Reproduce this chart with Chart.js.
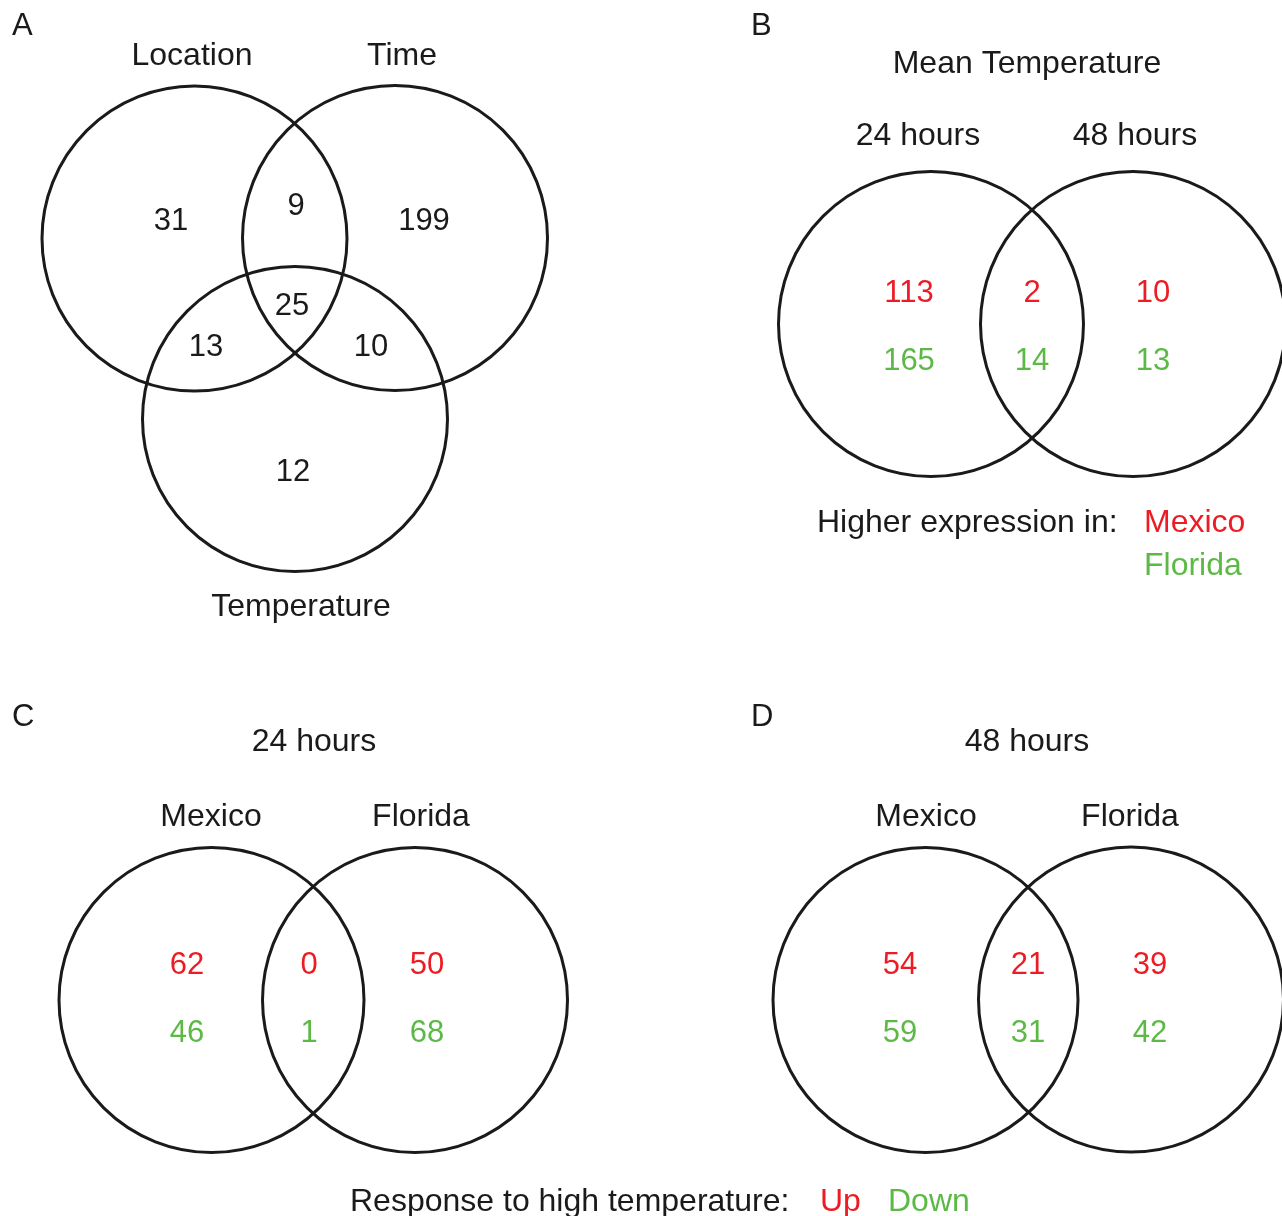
<!DOCTYPE html>
<html>
<head>
<meta charset="utf-8">
<script src="https://cdn.jsdelivr.net/npm/chart.js@4.4.1/dist/chart.umd.min.js"></script>
<style>
  html, body { margin: 0; padding: 0; background: #ffffff; }
  #wrap { width: 1282px; height: 1216px; }
</style>
</head>
<body>
<div id="wrap"><canvas id="c" width="1282" height="1216"></canvas></div>
<script>
// ---------------- DATA ----------------
const panelLetters = ['A', 'B', 'C', 'D'];

// Panel A: three-way Venn
const panelASets = ['Location', 'Time', 'Temperature'];
const panelARegions = ['Location only', 'Location & Time', 'Time only', 'All three',
                       'Location & Temperature', 'Time & Temperature', 'Temperature only'];
const panelACounts = [31, 9, 199, 25, 13, 10, 12];

// Panel B: Mean Temperature
const panelBTitle = 'Mean Temperature';
const panelBSets = ['24 hours', '48 hours'];
const panelBMexico = [113, 2, 10];   // 24h only, both, 48h only
const panelBFlorida = [165, 14, 13];
const panelBLegendLabel = 'Higher expression in:';
const panelBLegend = ['Mexico', 'Florida'];

// Panel C: 24 hours
const panelCTitle = '24 hours';
const panelCSets = ['Mexico', 'Florida'];
const panelCUp = [62, 0, 50];
const panelCDown = [46, 1, 68];

// Panel D: 48 hours
const panelDTitle = '48 hours';
const panelDSets = ['Mexico', 'Florida'];
const panelDUp = [54, 21, 39];
const panelDDown = [59, 31, 42];

const bottomLegendLabel = 'Response to high temperature:';
const bottomLegend = ['Up', 'Down'];

// ---------------- LAYOUT (positions / styles) ----------------
const RED = '#ed1c24';
const GREEN = '#5db946';
const INK = '#1a1a1a';
const FONT = '32px "Liberation Sans", Arial, Helvetica, sans-serif';
const NUM_FONT = '31px "Liberation Sans", Arial, Helvetica, sans-serif';

const circleLayout = [
  {x: 194.5, y: 238.5}, {x: 395, y: 238}, {x: 295, y: 419},      // A
  {x: 931, y: 324}, {x: 1133, y: 324},                           // B
  {x: 211.5, y: 1000}, {x: 415, y: 1000},                        // C
  {x: 925.5, y: 1000}, {x: 1131, y: 999.5}                       // D
];
const circleRadius = 152.5;

const letterPos = [{x: 12, y: 35}, {x: 751, y: 35}, {x: 12, y: 726}, {x: 751, y: 726}];
const aSetPos = [{x: 192, y: 65}, {x: 402, y: 65}, {x: 301, y: 616}];
const aRegionPos = [{x: 171, y: 230}, {x: 296, y: 215}, {x: 424, y: 230}, {x: 292, y: 315},
                    {x: 206, y: 356}, {x: 371, y: 356}, {x: 293, y: 481}];
const bTitlePos = {x: 1027, y: 73};
const bSetPos = [{x: 918, y: 145}, {x: 1135, y: 145}];
const bRegionX = [909, 1032, 1153];
const bRowY = [302, 370];
const bLegendPos = {x: 817, y: 532, x2: 1144, y2: 575};
const cTitlePos = {x: 314, y: 751};
const cSetPos = [{x: 211, y: 826}, {x: 421, y: 826}];
const cRegionX = [187, 309, 427];
const dTitlePos = {x: 1027, y: 751};
const dSetPos = [{x: 926, y: 826}, {x: 1130, y: 826}];
const dRegionX = [900, 1028, 1150];
const cdRowY = [974, 1042];
const bottomPos = {x: 350, y: 1211, up: 820, down: 888};

// ---------------- TEXT PLUGIN ----------------
const textPlugin = {
  id: 'vennText',
  afterDatasetsDraw(chart) {
    const ctx = chart.ctx;
    const sx = chart.scales.x, sy = chart.scales.y;
    const put = (t, x, y, color, align, font) => {
      ctx.font = font || FONT;
      ctx.fillStyle = color;
      ctx.textAlign = align || 'center';
      ctx.fillText(String(t), sx.getPixelForValue(x), sy.getPixelForValue(y));
    };
    ctx.save();
    ctx.textBaseline = 'alphabetic';
    panelLetters.forEach((l, i) => put(l, letterPos[i].x, letterPos[i].y, INK, 'left', NUM_FONT));
    // A
    panelASets.forEach((s, i) => put(s, aSetPos[i].x, aSetPos[i].y, INK));
    panelACounts.forEach((v, i) => put(v, aRegionPos[i].x, aRegionPos[i].y, INK, 'center', NUM_FONT));
    // B
    put(panelBTitle, bTitlePos.x, bTitlePos.y, INK);
    panelBSets.forEach((s, i) => put(s, bSetPos[i].x, bSetPos[i].y, INK));
    panelBMexico.forEach((v, i) => put(v, bRegionX[i], bRowY[0], RED, 'center', NUM_FONT));
    panelBFlorida.forEach((v, i) => put(v, bRegionX[i], bRowY[1], GREEN, 'center', NUM_FONT));
    put(panelBLegendLabel, bLegendPos.x, bLegendPos.y, INK, 'left');
    put(panelBLegend[0], bLegendPos.x2, bLegendPos.y, RED, 'left');
    put(panelBLegend[1], bLegendPos.x2, bLegendPos.y2, GREEN, 'left');
    // C
    put(panelCTitle, cTitlePos.x, cTitlePos.y, INK);
    panelCSets.forEach((s, i) => put(s, cSetPos[i].x, cSetPos[i].y, INK));
    panelCUp.forEach((v, i) => put(v, cRegionX[i], cdRowY[0], RED, 'center', NUM_FONT));
    panelCDown.forEach((v, i) => put(v, cRegionX[i], cdRowY[1], GREEN, 'center', NUM_FONT));
    // D
    put(panelDTitle, dTitlePos.x, dTitlePos.y, INK);
    panelDSets.forEach((s, i) => put(s, dSetPos[i].x, dSetPos[i].y, INK));
    panelDUp.forEach((v, i) => put(v, dRegionX[i], cdRowY[0], RED, 'center', NUM_FONT));
    panelDDown.forEach((v, i) => put(v, dRegionX[i], cdRowY[1], GREEN, 'center', NUM_FONT));
    // bottom legend
    put(bottomLegendLabel, bottomPos.x, bottomPos.y, INK, 'left');
    put(bottomLegend[0], bottomPos.up, bottomPos.y, RED, 'left');
    put(bottomLegend[1], bottomPos.down, bottomPos.y, GREEN, 'left');
    ctx.restore();
  }
};

// ---------------- CHART ----------------
new Chart(document.getElementById('c'), {
  type: 'bubble',
  data: {
    datasets: [{
      data: circleLayout.map(p => ({x: p.x, y: p.y, r: circleRadius})),
      backgroundColor: 'rgba(0,0,0,0)',
      borderColor: INK,
      borderWidth: 3,
      hoverBorderWidth: 3,
      hoverRadius: 0,
      clip: false
    }]
  },
  options: {
    responsive: false,
    animation: false,
    events: [],
    layout: {padding: 0, autoPadding: false},
    plugins: {legend: {display: false}, tooltip: {enabled: false}},
    scales: {
      x: {type: 'linear', min: 0, max: 1282, display: false},
      y: {type: 'linear', min: 0, max: 1216, reverse: true, display: false}
    }
  },
  plugins: [textPlugin]
});
</script>
</body>
</html>
